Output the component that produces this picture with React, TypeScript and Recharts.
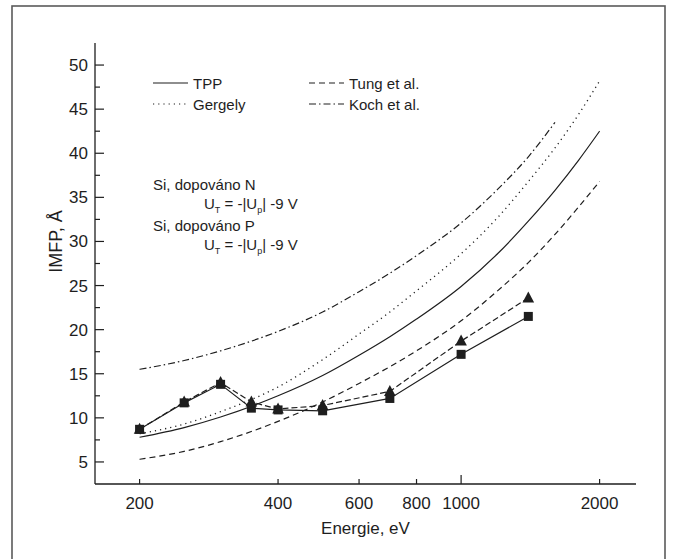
import { LineChart, Line, XAxis, YAxis } from "recharts";

// energies of the calculated curves (eV)
const CURVE_E = [200, 250, 300, 400, 500, 600, 700, 800, 1000, 1200, 1400, 1600, 1800, 2000];
const TPP = [7.8, 8.9, 10.1, 12.5, 14.8, 17.1, 19.2, 21.2, 24.9, 28.6, 32.3, 35.8, 39.2, 42.5];
const GERGELY = [8.2, 9.3, 10.7, 13.5, 16.6, 19.5, 22.0, 24.4, 28.6, 32.7, 36.8, 40.6, 44.4, 48.2];
const TUNG = [5.3, 6.2, 7.3, 9.6, 11.8, 13.9, 15.8, 17.6, 21.0, 24.4, 27.6, 30.8, 33.9, 36.8];
const KOCH_E = [200, 250, 300, 400, 500, 600, 700, 800, 1000, 1200, 1400, 1600];
const KOCH = [15.5, 16.5, 17.6, 19.8, 22.0, 24.3, 26.4, 28.4, 32.1, 35.9, 39.6, 43.5];

// measured points
const EXP_E = [200, 250, 300, 350, 400, 500, 700, 1000, 1400];
const SI_N = [8.7, 11.7, 13.8, 11.1, 10.9, 10.8, 12.2, 17.2, 21.5];
const SI_P = [8.7, 11.8, 14.0, 11.8, 11.0, 11.4, 13.0, 18.7, 23.6];

const X_TICKS = [200, 400, 600, 800, 1000, 2000];
const X_MAJOR = [1000];
const Y_TICKS = [5, 7.5, 10, 12.5, 15, 17.5, 20, 22.5, 25, 27.5, 30, 32.5, 35, 37.5, 40, 42.5, 45, 47.5, 50];

const LEGEND_NAMES = ["TPP", "Gergely", "Tung et al.", "Koch et al."];

const INK = "#1e1e1e";
const FONT = "'Liberation Sans', Arial, sans-serif";
const DASH: Record<string, string | undefined> = {
  TPP: undefined,
  Gergely: "1.2 4",
  "Tung et al.": "6 4",
  "Koch et al.": "7 3 1.5 3",
};

const toRows = (xs: number[], ys: number[]) => xs.map((e, i) => ({ e, v: ys[i] }));

function BottomTick(props: any) {
  const { x, y, payload } = props;
  const len = X_MAJOR.includes(payload.value) ? 9 : 5;
  return (
    <g>
      <line x1={x} x2={x} y1={y} y2={y - len} stroke={INK} strokeWidth={1.2} />
      <text x={x} y={y + 25} textAnchor="middle" fontSize={17} fill={INK} fontFamily={FONT}>
        {payload.value}
      </text>
    </g>
  );
}

function TopTick(props: any) {
  const { x, y, payload } = props;
  const len = X_MAJOR.includes(payload.value) ? 9 : 5;
  return <line x1={x} x2={x} y1={y} y2={y + len} stroke={INK} strokeWidth={1.2} />;
}

function LeftTick(props: any) {
  const { x, y, payload } = props;
  const major = payload.value % 5 === 0;
  return (
    <g>
      <line x1={x} x2={x + (major ? 9 : 5)} y1={y} y2={y} stroke={INK} strokeWidth={1.2} />
      {major && (
        <text x={x - 7} y={y + 6} textAnchor="end" fontSize={17} fill={INK} fontFamily={FONT}>
          {payload.value}
        </text>
      )}
    </g>
  );
}

function RightTick(props: any) {
  const { x, y, payload } = props;
  const major = payload.value % 5 === 0;
  return <line x1={x} x2={x - (major ? 9 : 5)} y1={y} y2={y} stroke={INK} strokeWidth={1.2} />;
}

function XTitle(props: any) {
  const { viewBox } = props;
  return (
    <text x={viewBox.x + viewBox.width / 2} y={viewBox.y + 50} textAnchor="middle" fontSize={17} fill={INK} fontFamily={FONT}>
      Energie, eV
    </text>
  );
}

function YTitle(props: any) {
  const { viewBox } = props;
  const cx = viewBox.x + 62;
  const cy = viewBox.y + viewBox.height / 2 - 22;
  return (
    <text x={cx} y={cy} transform={`rotate(-90 ${cx} ${cy})`} textAnchor="middle" fontSize={18} fill={INK} fontFamily={FONT}>
      IMFP, Å
    </text>
  );
}

const Square = (p: any) => (
  <rect key={`s${p.index}`} x={p.cx - 4.5} y={p.cy - 4.5} width={9} height={9} fill={INK} />
);
const Triangle = (p: any) => (
  <path key={`t${p.index}`} d={`M${p.cx},${p.cy - 6.5} L${p.cx + 5.8},${p.cy + 4.5} L${p.cx - 5.8},${p.cy + 4.5} Z`} fill={INK} />
);

function Annotation() {
  const rows = [
    { label: "Si, dopováno N", y: 190 },
    { label: "Si, dopováno P", y: 231 },
  ];
  return (
    <g fontFamily={FONT} fontSize={15} fill={INK}>
      {rows.map((r) => (
        <g key={r.label}>
          <text x={153} y={r.y}>{r.label}</text>
          <text x={204} y={r.y + 19}>
            <tspan>U</tspan>
            <tspan dy={4} fontSize={9}>T</tspan>
            <tspan dy={-4}> = -|U</tspan>
            <tspan dy={4} fontSize={9}>p</tspan>
            <tspan dy={-4}>| -9 V</tspan>
          </text>
        </g>
      ))}
    </g>
  );
}

function LegendBox() {
  return (
    <g fontFamily={FONT} fontSize={15} fill={INK}>
      {LEGEND_NAMES.map((name, i) => {
        const col = Math.floor(i / 2);
        const row = i % 2;
        const x0 = 153 + col * 156;
        const y = 83 + row * 21;
        return (
          <g key={name}>
            <line x1={x0} x2={x0 + 35} y1={y} y2={y} stroke={INK} strokeWidth={1.2} strokeDasharray={DASH[name]} />
            <text x={x0 + 40} y={y + 5.5}>{name}</text>
          </g>
        );
      })}
    </g>
  );
}

export default function App() {
  const axisLine = { stroke: INK, strokeWidth: 1.3 };
  return (
    <div style={{ position: "absolute", left: 0, top: 0, width: 676, height: 559, background: "#fff" }}>
      <svg width={676} height={559} style={{ position: "absolute", left: 0, top: 0 }}>
        <rect x={12} y={6} width={653} height={560} fill="none" stroke="#5a5a5a" strokeWidth={1.6} />
      </svg>
      <div style={{ position: "absolute", left: 0, top: 0 }}>
        <LineChart width={676} height={559} margin={{ top: 43, right: 40, bottom: 0, left: 0 }} style={{ fontFamily: FONT }}>
          <XAxis
            xAxisId="b"
            dataKey="e"
            type="number"
            scale="log"
            domain={[160, 2400]}
            allowDataOverflow
            ticks={X_TICKS}
            interval={0}
            height={75}
            tickSize={0}
            tickMargin={0}
            axisLine={axisLine}
            tick={<BottomTick />}
            label={<XTitle />}
          />
          <XAxis
            xAxisId="t"
            orientation="top"
            dataKey="e"
            type="number"
            scale="log"
            domain={[160, 2400]}
            allowDataOverflow
            ticks={X_TICKS}
            interval={0}
            height={0}
            tickSize={0}
            tickMargin={0}
            axisLine={axisLine}
            tick={<TopTick />}
          />
          <YAxis
            yAxisId="l"
            type="number"
            domain={[2.5, 52.5]}
            allowDataOverflow
            ticks={Y_TICKS}
            interval={0}
            width={95}
            tickSize={0}
            tickMargin={0}
            axisLine={axisLine}
            tick={<LeftTick />}
            label={<YTitle />}
          />
          <YAxis
            yAxisId="r"
            orientation="right"
            type="number"
            domain={[2.5, 52.5]}
            allowDataOverflow
            ticks={Y_TICKS}
            interval={0}
            width={0}
            tickSize={0}
            tickMargin={0}
            axisLine={axisLine}
            tick={<RightTick />}
          />
          <Line xAxisId="b" yAxisId="l" data={toRows(CURVE_E, TPP)} dataKey="v" type="monotone" stroke={INK} strokeWidth={1.2} dot={false} activeDot={false} isAnimationActive={false} />
          <Line xAxisId="b" yAxisId="l" data={toRows(CURVE_E, GERGELY)} dataKey="v" type="monotone" stroke={INK} strokeWidth={1.3} strokeDasharray={DASH.Gergely} dot={false} activeDot={false} isAnimationActive={false} />
          <Line xAxisId="b" yAxisId="l" data={toRows(CURVE_E, TUNG)} dataKey="v" type="monotone" stroke={INK} strokeWidth={1.2} strokeDasharray={DASH["Tung et al."]} dot={false} activeDot={false} isAnimationActive={false} />
          <Line xAxisId="b" yAxisId="l" data={toRows(KOCH_E, KOCH)} dataKey="v" type="monotone" stroke={INK} strokeWidth={1.2} strokeDasharray={DASH["Koch et al."]} dot={false} activeDot={false} isAnimationActive={false} />
          <Line xAxisId="b" yAxisId="l" data={toRows(EXP_E, SI_N)} dataKey="v" type="linear" stroke={INK} strokeWidth={1.2} dot={Square} activeDot={false} isAnimationActive={false} />
          <Line xAxisId="b" yAxisId="l" data={toRows(EXP_E, SI_P)} dataKey="v" type="linear" stroke={INK} strokeWidth={1.2} strokeDasharray="6 3" dot={Triangle} activeDot={false} isAnimationActive={false} />
          <LegendBox />
          <Annotation />
        </LineChart>
      </div>
    </div>
  );
}
